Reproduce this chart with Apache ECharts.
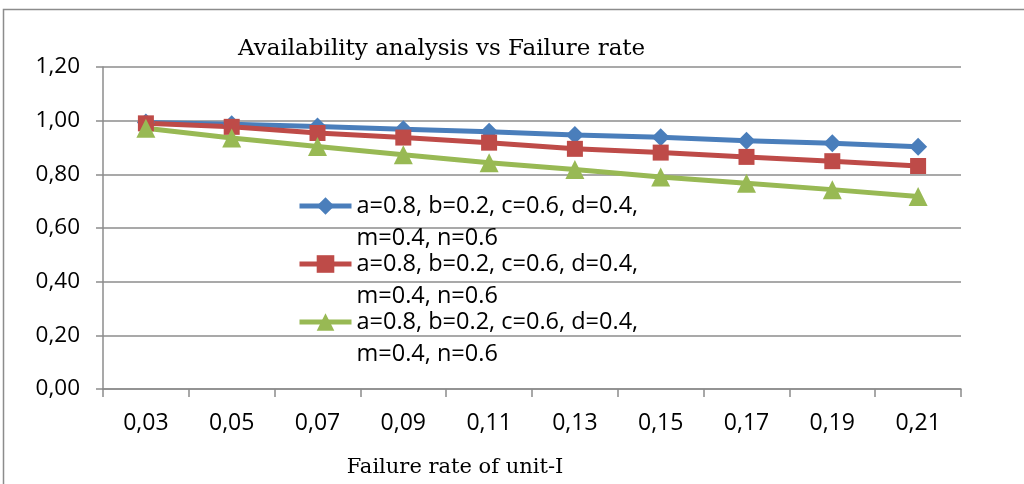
<!DOCTYPE html>
<html>
<head>
<meta charset="utf-8">
<script src="https://cdn.jsdelivr.net/npm/echarts@6/dist/echarts.min.js"></script>
<style>
  html, body { margin: 0; padding: 0; background: #fff; }
  #chart { width: 1024px; height: 484px; }
</style>
</head>
<body>
<div id="chart"></div>
<script>
// failure rate of unit-I
const categories = ['0,03', '0,05', '0,07', '0,09', '0,11', '0,13', '0,15', '0,17', '0,19', '0,21'];
const seriesNames = ['s1', 's2', 's3'];
const legendLine1 = 'a=0.8, b=0.2, c=0.6, d=0.4,';
const legendLine2 = 'm=0.4, n=0.6';
const blueValues = [0.993, 0.987, 0.978, 0.968, 0.959, 0.947, 0.938, 0.925, 0.916, 0.903];
const redValues = [0.99, 0.977, 0.954, 0.937, 0.918, 0.895, 0.881, 0.865, 0.849, 0.831];
const greenValues = [0.972, 0.935, 0.904, 0.873, 0.843, 0.818, 0.79, 0.767, 0.743, 0.717];
const yTicks = [0, 0.2, 0.4, 0.6, 0.8, 1.0, 1.2];

const chart = echarts.init(document.getElementById('chart'));
const grey = '#8c8c8c';
const sans = 'Open Sans';
const serif = 'DejaVu Serif';

function lineSeries(name, data, color, symbol, size) {
  return {
    name: name,
    type: 'line',
    data: data,
    symbol: symbol,
    symbolSize: size,
    lineStyle: { color: color, width: 5 },
    itemStyle: { color: color },
    emphasis: { disabled: true }
  };
}

chart.setOption({
  animation: false,
  title: {
    text: 'Availability analysis vs Failure rate',
    left: 233,
    top: 33,
    textStyle: { fontFamily: serif, fontWeight: 'normal', fontSize: 23, color: '#000' }
  },
  graphic: [{
    type: 'rect',
    shape: { x: 3.5, y: 9.5, width: 1040, height: 500 },
    style: { fill: 'none', stroke: grey, lineWidth: 1.5 },
    silent: true
  }],
  legend: {
    orient: 'vertical',
    left: 297,
    top: 162,
    padding: 0,
    itemWidth: 52,
    itemHeight: 22,
    itemGap: -30,
    data: seriesNames,
    lineStyle: { width: 5 },
    // blank first line keeps the icon level with the first text line
    formatter: function () {
      return '{s| }\n{t|' + legendLine1 + '}\n{t|' + legendLine2 + '}';
    },
    textStyle: {
      fontFamily: sans,
      fontSize: 23.5,
      color: '#000',
      rich: {
        s: { fontFamily: sans, fontSize: 23.5, lineHeight: 32 },
        t: { fontFamily: sans, fontSize: 23.5, lineHeight: 32, color: '#000' }
      }
    }
  },
  grid: { left: 103, right: 63, top: 67, bottom: 95 },
  xAxis: {
    type: 'category',
    data: categories,
    boundaryGap: true,
    name: 'Failure rate of unit-I',
    nameLocation: 'middle',
    nameGap: 68,
    nameTextStyle: { fontFamily: serif, fontSize: 21, color: '#000', padding: [0, 154, 0, 0] },
    axisLine: { lineStyle: { color: grey, width: 1.5 } },
    axisTick: { show: true, length: 8, lineStyle: { color: grey, width: 1.5 } },
    axisLabel: { fontFamily: sans, fontSize: 23, color: '#000', margin: 23 }
  },
  yAxis: {
    type: 'value',
    min: yTicks[0],
    max: yTicks[yTicks.length - 1],
    interval: 0.2,
    axisLine: { show: true, lineStyle: { color: grey, width: 1.5 } },
    axisTick: { show: true, length: 7, lineStyle: { color: grey, width: 1.5 } },
    splitLine: { lineStyle: { color: grey, width: 1.5 } },
    axisLabel: {
      fontFamily: sans,
      fontSize: 22.5,
      color: '#000',
      margin: 23,
      formatter: function (v) { return v.toFixed(2).replace('.', ','); }
    }
  },
  series: [
    lineSeries(seriesNames[0], blueValues, '#4a7ebb', 'diamond', 18),
    lineSeries(seriesNames[1], redValues, '#be4b48', 'rect', 16),
    lineSeries(seriesNames[2], greenValues, '#98b954', 'triangle', 19)
  ]
});
</script>
</body>
</html>
